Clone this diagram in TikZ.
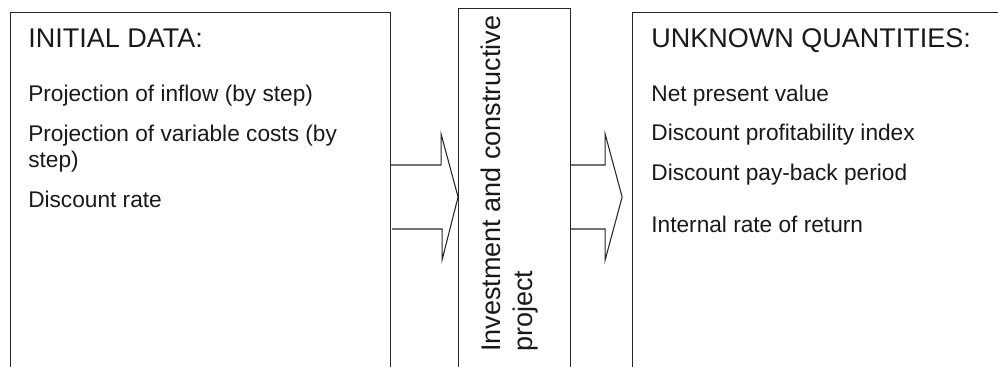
\documentclass[tikz,border=0pt]{standalone}
\usepackage{fontspec}
\setmainfont{Liberation Sans}
\usetikzlibrary{positioning,calc}

\begin{document}
\begin{tikzpicture}[
    x=0.75pt, y=-0.75pt,
    dataBox/.style={rectangle, draw=black!85, line width=0.8pt, inner sep=0pt, minimum height=315pt},
    projectBox/.style={rectangle, draw=black!85, line width=0.8pt, inner sep=0pt, minimum width=84pt, minimum height=315pt},
    titleText/.style={font=\fontsize{20.25}{24}\selectfont, text=black!90, inner sep=0pt, anchor=base west},
    itemText/.style={font=\fontsize{17}{19.5}\selectfont, text=black!90, inner sep=0pt, anchor=base west, align=left},
    projectText/.style={font=\fontsize{20.25}{24}\selectfont, text=black!90, inner sep=0pt, rotate=90, anchor=north west, align=left},
    blockArrow/.style={draw=black!85, line width=0.8pt, line join=miter}
]
\useasboundingbox (0,0) rectangle (998,367);
\clip (0,0) rectangle (998,367);

% ================= BOXES =================
\node[dataBox, minimum width=285pt, anchor=north west] (initial) at (10,12) {};
\node[projectBox, right=50.25pt of initial.north east, anchor=north west, yshift=3pt] (project) {};
\node[dataBox, minimum width=300pt, right=45.75pt of project.north east, anchor=north west, yshift=-3pt] (unknown) {};

% ================= INITIAL DATA =================
\node[titleText] (initTitle) at ([shift={(18,36)}]initial.north west) {INITIAL DATA:};
\node[itemText] (inflow) at ([shift={(18,90)}]initial.north west) {Projection of inflow (by step)};
\node[itemText] (costs) at ([shift={(18,155)}]initial.north west) {Projection of variable costs (by\\step)};
\node[itemText] (rate) at ([shift={(18,195)}]initial.north west) {Discount rate};

% ================= PROJECT =================
\node[projectText] (projLabel) at ([shift={(23,344)}]project.north west) {Investment and constructive\\project};

% ================= UNKNOWN QUANTITIES =================
\node[titleText] (unkTitle) at ([shift={(19,36)}]unknown.north west) {UNKNOWN QUANTITIES:};
\node[itemText] (npv) at ([shift={(19,90)}]unknown.north west) {Net present value};
\node[itemText] (dpi) at ([shift={(19,129)}]unknown.north west) {Discount profitability index};
\node[itemText] (dpp) at ([shift={(19,168)}]unknown.north west) {Discount pay-back period};
\node[itemText] (irr) at ([shift={(19,220)}]unknown.north west) {Internal rate of return};

% ================= BLOCK ARROWS =================
\coordinate (tipA) at ([shift={(0,189)}]project.north west);
\coordinate (tipB) at ([shift={(-10,185)}]unknown.north west);
\draw[blockArrow] (initial.east |- tipA) ++(0,-32) -- ++(50,0) -- ++(0,-31) -- (tipA)
    -- ++(-16,63) -- ++(0,-31) -- ++(-50,0);
\draw[blockArrow] (project.east |- tipB) ++(0,-32) -- ++(34,0) -- ++(0,-31) -- (tipB)
    -- ++(-17,63) -- ++(0,-31) -- ++(-34,0);

\end{tikzpicture}
\end{document}
